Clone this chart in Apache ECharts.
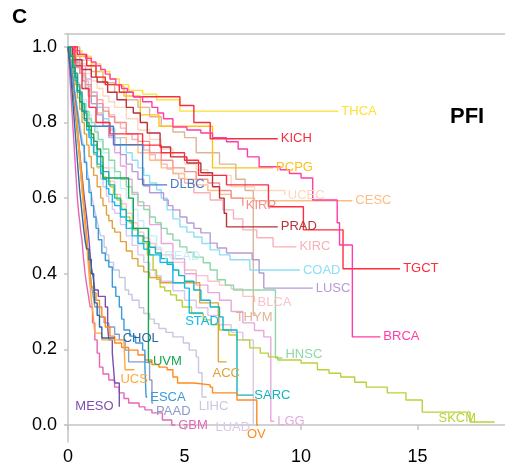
<!DOCTYPE html>
<html>
<head>
<meta charset="utf-8">
<script src="https://cdn.jsdelivr.net/npm/echarts@6/dist/echarts.min.js"></script>
<style>
  html, body { margin: 0; padding: 0; background: #fff; }
  #chart { width: 505px; height: 473px; }
</style>
</head>
<body>
<div id="chart"></div>
<script>
// survival curves, [years, probability] per cancer type
const THCA = [[0,1],[0.3,0.99],[0.6,0.975],[1,0.955],[1.4,0.935],[1.8,0.915],[2.2,0.9],[2.6,0.885],[3.2,0.875],[3.8,0.86],[4.8,0.83],[11.6,0.83]]
const KICH = [[0,1],[0.4,0.98],[0.8,0.95],[1.2,0.92],[1.6,0.9],[2.2,0.88],[2.8,0.868],[4.8,0.845],[5.4,0.8],[6.1,0.757],[9,0.757]]
const PCPG = [[0,1],[0.4,0.975],[0.8,0.95],[1.2,0.92],[1.6,0.9],[2.0,0.895],[2.4,0.87],[3.1,0.82],[3.9,0.79],[6.2,0.68],[8.8,0.68]]
const BRCA = [[0,1],[0.25,0.99],[0.5,0.98],[0.75,0.97],[1,0.96],[1.2,0.95],[1.4,0.94],[1.6,0.928],[1.8,0.915],[2.05,0.9],[2.3,0.89],[2.55,0.88],[2.8,0.868],[3.2,0.855],[3.6,0.84],[3.85,0.825],[4.1,0.81],[4.5,0.788],[5.1,0.78],[5.7,0.772],[6.2,0.76],[6.8,0.749],[7.3,0.73],[7.7,0.709],[8.2,0.683],[9.1,0.675],[9.5,0.665],[10,0.653],[10.5,0.595],[11.55,0.535],[11.65,0.476],[12.2,0.233],[13.4,0.233]]
const PRAD = [[0,1],[0.2,0.966],[0.6,0.94],[1.0,0.92],[1.25,0.907],[1.7,0.88],[2.1,0.86],[2.5,0.84],[2.8,0.825],[3.1,0.8],[3.4,0.772],[3.95,0.735],[4.4,0.709],[5.1,0.693],[5.7,0.667],[6.2,0.63],[6.5,0.6],[6.7,0.56],[6.8,0.524],[9.0,0.524]]
const KIRP = [[0,1],[0.25,0.96],[0.5,0.93],[0.75,0.9],[1,0.87],[1.25,0.85],[1.5,0.83],[1.75,0.815],[2,0.8],[2.5,0.77],[3,0.75],[3.5,0.72],[4,0.7],[4.5,0.68],[5,0.67],[5.5,0.65],[6,0.64],[6.5,0.62],[7,0.6],[7.5,0.58]]
const UCEC = [[0,1],[0.25,0.975],[0.5,0.955],[0.75,0.93],[1,0.91],[1.25,0.89],[1.5,0.87],[1.75,0.855],[2,0.84],[2.5,0.81],[3,0.78],[3.5,0.755],[4,0.73],[4.5,0.71],[5,0.69],[5.5,0.675],[6,0.66],[7,0.63],[8,0.62],[9.3,0.608]]
const CESC = [[0,1],[0.125,0.985],[0.25,0.965],[0.375,0.95],[0.5,0.93],[0.625,0.91],[0.75,0.89],[0.875,0.87],[1,0.85],[1.25,0.825],[1.5,0.8],[1.75,0.78],[2,0.76],[2.5,0.74],[3,0.72],[3.5,0.7],[4,0.68],[4.5,0.665],[5,0.65],[5.5,0.635],[6,0.62],[6.5,0.61],[7,0.6],[8,0.593],[12.2,0.593]]
const KIRC = [[0,1],[0.125,0.985],[0.25,0.97],[0.375,0.955],[0.5,0.94],[0.625,0.925],[0.75,0.91],[0.875,0.895],[1,0.88],[1.25,0.86],[1.5,0.84],[1.75,0.82],[2,0.8],[2.25,0.785],[2.5,0.77],[2.75,0.755],[3,0.74],[3.25,0.727],[3.5,0.715],[3.75,0.7],[4,0.69],[4.25,0.677],[4.5,0.665],[4.75,0.652],[5,0.64],[5.4,0.614],[6.1,0.595],[6.65,0.569],[7.1,0.545],[7.5,0.516],[8.1,0.495],[8.8,0.471],[9.8,0.471]]
const TGCT = [[0,1],[0.3,0.95],[0.6,0.89],[0.9,0.84],[1.2,0.8],[1.8,0.77],[3.2,0.74],[4,0.72],[5,0.7],[5.6,0.66],[6.8,0.635],[8.6,0.577],[10.1,0.516],[11.8,0.413],[14.25,0.413]]
const COAD = [[0,1],[0.125,0.985],[0.25,0.97],[0.375,0.955],[0.5,0.94],[0.625,0.92],[0.75,0.9],[0.875,0.885],[1,0.87],[1.25,0.84],[1.5,0.81],[1.75,0.785],[2,0.76],[2.25,0.74],[2.5,0.72],[2.75,0.7],[3,0.68],[3.25,0.66],[3.5,0.64],[3.8,0.622],[4.0,0.6],[4.25,0.569],[4.5,0.545],[4.8,0.524],[5.1,0.51],[5.4,0.497],[5.75,0.48],[6.1,0.463],[6.5,0.45],[6.95,0.437],[7.8,0.41],[9.95,0.41]]
const LUSC = [[0,1],[0.125,0.98],[0.25,0.96],[0.375,0.945],[0.5,0.93],[0.625,0.91],[0.75,0.89],[0.875,0.87],[1,0.85],[1.25,0.82],[1.5,0.79],[1.75,0.765],[2,0.74],[2.25,0.715],[2.5,0.69],[2.75,0.67],[3,0.65],[3.25,0.632],[3.5,0.614],[4.1,0.595],[4.3,0.58],[4.5,0.569],[4.8,0.55],[5.1,0.534],[5.4,0.52],[5.7,0.508],[6.1,0.481],[6.4,0.468],[6.8,0.455],[7.9,0.437],[8.2,0.402],[8.4,0.362],[10.5,0.362]]
const BLCA = [[0,1],[0.1,0.975],[0.2,0.95],[0.3,0.93],[0.4,0.905],[0.5,0.88],[0.6,0.855],[0.7,0.83],[0.8,0.81],[0.9,0.79],[1,0.77],[1.1,0.75],[1.25,0.725],[1.4,0.695],[1.5,0.68],[1.75,0.645],[2,0.61],[2.25,0.585],[2.5,0.56],[2.75,0.535],[3,0.51],[3.25,0.495],[3.5,0.48],[3.75,0.465],[4,0.45],[4.5,0.43],[5,0.41],[5.5,0.395],[6,0.38],[6.5,0.37],[7,0.36],[7.5,0.34],[8,0.325]]
const THYM = [[0,1],[0.5,0.965],[1,0.935],[1.5,0.905],[2,0.88],[2.5,0.86],[3,0.84],[3.5,0.815],[4,0.79],[4.5,0.775],[5,0.76],[5.5,0.72],[6.5,0.69],[7.2,0.65],[7.6,0.62],[7.95,0.29],[8.05,0.29]]
const HNSC = [[0,1],[0.1,0.975],[0.2,0.945],[0.3,0.92],[0.4,0.895],[0.5,0.87],[0.6,0.85],[0.75,0.83],[0.9,0.81],[1,0.8],[1.15,0.775],[1.3,0.755],[1.5,0.73],[1.75,0.7],[2,0.67],[2.25,0.65],[2.5,0.63],[2.75,0.61],[3,0.59],[3.25,0.57],[3.5,0.55],[3.75,0.535],[4,0.52],[4.25,0.505],[4.5,0.489],[4.8,0.471],[5.1,0.457],[5.4,0.444],[5.8,0.429],[6.1,0.41],[6.4,0.384],[6.75,0.37],[7.1,0.357],[8.9,0.177],[9.2,0.177]]
const STAD = [[0,1],[0.1,0.965],[0.2,0.935],[0.3,0.91],[0.4,0.88],[0.5,0.855],[0.6,0.83],[0.7,0.805],[0.8,0.78],[0.9,0.76],[1,0.74],[1.1,0.72],[1.25,0.69],[1.4,0.665],[1.5,0.65],[1.65,0.625],[1.75,0.61],[1.9,0.59],[2,0.58],[2.25,0.55],[2.5,0.52],[2.75,0.5],[3,0.48],[3.25,0.465],[3.5,0.45],[3.95,0.43],[4.5,0.376],[5.0,0.362],[5.2,0.296],[5.8,0.296]]
const SARC = [[0,1],[0.1,0.975],[0.2,0.95],[0.3,0.93],[0.4,0.9],[0.5,0.875],[0.6,0.85],[0.7,0.825],[0.8,0.8],[0.9,0.78],[1,0.76],[1.1,0.74],[1.25,0.71],[1.4,0.685],[1.5,0.67],[1.75,0.635],[2,0.6],[2.25,0.57],[2.5,0.54],[2.75,0.52],[3,0.5],[3.25,0.485],[3.5,0.47],[3.75,0.455],[4,0.44],[4.25,0.425],[4.5,0.41],[4.75,0.395],[5,0.38],[5.4,0.357],[5.7,0.33],[6.1,0.312],[6.5,0.286],[6.65,0.251],[7.25,0.079],[7.95,0.079]]
const SKCM = [[0,1],[0.1,0.975],[0.2,0.95],[0.3,0.93],[0.4,0.9],[0.5,0.875],[0.6,0.85],[0.7,0.825],[0.8,0.8],[0.9,0.77],[1,0.74],[1.1,0.715],[1.25,0.683],[1.4,0.665],[1.5,0.656],[1.65,0.645],[1.8,0.63],[1.95,0.61],[2.1,0.595],[2.3,0.57],[2.5,0.55],[2.65,0.535],[2.8,0.516],[3.0,0.5],[3.2,0.481],[3.4,0.45],[3.65,0.41],[3.8,0.385],[3.95,0.365],[4.15,0.355],[4.4,0.344],[4.65,0.33],[4.9,0.312],[5.3,0.295],[5.8,0.278],[6.15,0.265],[6.5,0.251],[6.9,0.238],[7.25,0.225],[7.8,0.204],[8.25,0.19],[8.6,0.18],[9,0.172],[10,0.164],[10.7,0.146],[11.2,0.137],[11.7,0.127],[12.3,0.113],[12.8,0.1],[13.7,0.085],[14.5,0.066],[15.2,0.034],[17.25,0.008],[18.3,0.008]]
const UVM = [[0,1],[0.1,0.975],[0.2,0.945],[0.3,0.92],[0.4,0.885],[0.5,0.855],[0.6,0.83],[0.7,0.81],[0.8,0.79],[1,0.77],[1.1,0.75],[1.25,0.73],[1.4,0.71],[1.5,0.653],[2.6,0.6],[2.8,0.52],[3.45,0.167],[3.6,0.167]]
const ACC = [[0,1],[0.1,0.965],[0.2,0.935],[0.3,0.9],[0.4,0.865],[0.5,0.835],[0.6,0.8],[0.7,0.77],[0.8,0.74],[0.9,0.71],[1,0.68],[1.1,0.66],[1.25,0.63],[1.4,0.6],[1.5,0.58],[1.65,0.555],[1.75,0.54],[1.9,0.52],[2,0.51],[2.25,0.485],[2.5,0.46],[2.75,0.44],[3,0.42],[3.25,0.405],[3.5,0.39],[3.95,0.376],[5.65,0.323],[6.45,0.167],[6.8,0.167]]
const LIHC = [[0,1],[0.05,0.98],[0.1,0.96],[0.15,0.94],[0.2,0.92],[0.27,0.89],[0.35,0.86],[0.42,0.83],[0.5,0.8],[0.57,0.77],[0.65,0.74],[0.72,0.71],[0.8,0.68],[0.87,0.655],[0.95,0.63],[1.02,0.605],[1.1,0.58],[1.17,0.56],[1.25,0.54],[1.32,0.52],[1.4,0.5],[1.55,0.47],[1.65,0.45],[1.75,0.43],[1.95,0.41],[2.2,0.39],[2.45,0.357],[2.6,0.345],[2.75,0.33],[3.05,0.31],[3.25,0.295],[3.5,0.28],[3.7,0.268],[3.9,0.255],[4.2,0.245],[4.5,0.233],[4.95,0.217],[5.2,0.198],[5.5,0.18],[5.6,0.138],[5.75,0.074],[5.95,0.074]]
const LUAD = [[0,1],[0.1,0.975],[0.2,0.95],[0.3,0.93],[0.4,0.9],[0.5,0.875],[0.6,0.85],[0.7,0.82],[0.8,0.79],[0.9,0.765],[1,0.74],[1.1,0.715],[1.25,0.68],[1.4,0.65],[1.5,0.63],[1.65,0.605],[1.75,0.59],[1.9,0.57],[2,0.56],[2.25,0.53],[2.5,0.5],[2.75,0.475],[3,0.45],[3.25,0.43],[3.5,0.41],[3.75,0.395],[4,0.38],[4.5,0.355],[5,0.33],[5.5,0.31],[6,0.29],[6.5,0.265],[7,0.245],[7.5,0.225],[7.95,0.0],[8.0,0.0]]
const LGG = [[0,1],[0.25,0.975],[0.5,0.95],[0.75,0.915],[1,0.88],[1.25,0.84],[1.5,0.8],[1.75,0.76],[2,0.72],[2.25,0.685],[2.5,0.65],[2.75,0.615],[3,0.58],[3.5,0.53],[4,0.48],[4.5,0.44],[5,0.4],[5.5,0.37],[6,0.35],[6.5,0.33],[7,0.3],[7.5,0.27],[8,0.25],[8.4,0.233],[8.7,0.01],[8.85,0.01]]
const OV = [[0,1],[0.05,0.985],[0.1,0.97],[0.15,0.95],[0.2,0.93],[0.25,0.9],[0.3,0.87],[0.35,0.835],[0.4,0.8],[0.45,0.76],[0.5,0.72],[0.55,0.685],[0.6,0.65],[0.65,0.61],[0.7,0.57],[0.75,0.535],[0.8,0.5],[0.85,0.465],[0.9,0.43],[0.95,0.4],[1,0.365],[1.1,0.35],[1.2,0.33],[1.35,0.312],[1.45,0.285],[1.6,0.259],[1.8,0.235],[2,0.217],[2.3,0.205],[2.6,0.198],[3.0,0.185],[3.3,0.172],[3.6,0.16],[3.9,0.153],[4.25,0.146],[4.5,0.127],[4.7,0.111],[5.4,0.106],[6.1,0.1],[6.2,0.085],[7.25,0.066],[8.1,0.0],[8.15,0.0]]
const UCS = [[0,1],[0.05,0.98],[0.1,0.96],[0.15,0.94],[0.2,0.92],[0.25,0.885],[0.3,0.85],[0.35,0.815],[0.4,0.78],[0.45,0.74],[0.5,0.7],[0.55,0.66],[0.6,0.62],[0.65,0.585],[0.7,0.55],[0.75,0.515],[0.8,0.48],[0.85,0.44],[0.9,0.4],[0.95,0.365],[1,0.33],[1.08,0.29],[1.15,0.243],[1.45,0.225],[2.4,0.217],[2.45,0.146],[2.85,0.146]]
const CHOL = [[0,1],[0.05,0.97],[0.1,0.94],[0.15,0.9],[0.2,0.86],[0.25,0.82],[0.3,0.78],[0.35,0.74],[0.4,0.7],[0.45,0.66],[0.5,0.62],[0.55,0.59],[0.6,0.56],[0.65,0.53],[0.73,0.489],[0.8,0.465],[0.9,0.437],[1.0,0.4],[1.1,0.376],[1.15,0.323],[1.25,0.29],[1.35,0.259],[1.45,0.23],[2.0,0.23]]
const ESCA = [[0,1],[0.05,0.98],[0.1,0.96],[0.15,0.94],[0.2,0.92],[0.25,0.895],[0.3,0.87],[0.35,0.85],[0.4,0.83],[0.45,0.805],[0.5,0.78],[0.55,0.76],[0.6,0.74],[0.7,0.695],[0.8,0.65],[0.9,0.615],[1,0.58],[1.1,0.55],[1.2,0.52],[1.3,0.49],[1.45,0.455],[1.6,0.435],[1.75,0.418],[1.9,0.365],[2.05,0.34],[2.2,0.312],[2.3,0.28],[2.4,0.251],[2.65,0.235],[2.9,0.217],[3.2,0.198],[3.3,0.153],[3.35,0.074],[3.4,0.074]]
const PAAD = [[0,1],[0.05,0.975],[0.1,0.95],[0.15,0.925],[0.2,0.9],[0.25,0.865],[0.3,0.83],[0.35,0.8],[0.4,0.77],[0.45,0.735],[0.5,0.7],[0.55,0.665],[0.6,0.63],[0.65,0.595],[0.7,0.56],[0.75,0.525],[0.8,0.49],[0.85,0.46],[0.9,0.43],[0.95,0.4],[1,0.37],[1.08,0.34],[1.15,0.312],[1.35,0.286],[1.55,0.27],[1.75,0.259],[2.0,0.24],[2.2,0.225],[2.45,0.198],[2.6,0.167],[3.3,0.164],[3.5,0.119],[3.6,0.058],[3.65,0.058]]
const MESO = [[0,1],[0.05,0.97],[0.1,0.95],[0.15,0.92],[0.2,0.9],[0.25,0.87],[0.3,0.84],[0.35,0.81],[0.4,0.78],[0.45,0.75],[0.5,0.72],[0.55,0.69],[0.6,0.66],[0.65,0.63],[0.7,0.6],[0.75,0.575],[0.8,0.55],[0.85,0.52],[0.9,0.489],[0.95,0.45],[1,0.418],[1.08,0.39],[1.15,0.357],[1.3,0.34],[1.6,0.312],[1.7,0.26],[1.75,0.225],[1.9,0.19],[1.95,0.153],[2.0,0.111],[2.2,0.048]]
const GBM = [[0,1],[0.03,0.97],[0.06,0.94],[0.1,0.9],[0.13,0.87],[0.17,0.83],[0.2,0.8],[0.25,0.75],[0.3,0.7],[0.35,0.65],[0.4,0.6],[0.45,0.565],[0.5,0.54],[0.55,0.51],[0.6,0.489],[0.65,0.45],[0.73,0.402],[0.8,0.37],[0.88,0.34],[0.95,0.312],[1.05,0.27],[1.15,0.225],[1.25,0.19],[1.35,0.153],[1.5,0.135],[1.75,0.119],[2.0,0.1],[2.2,0.085],[2.4,0.07],[2.6,0.058],[3.05,0.048],[3.3,0.04],[3.6,0.032],[4.05,0.013],[4.45,0.0],[4.6,0.0]]
const DLBC = [[0,1],[0.1,0.96],[0.2,0.93],[0.4,0.88],[0.6,0.83],[0.8,0.79],[1.95,0.741],[3.2,0.635],[4.25,0.635]]
const READ = [[0,1],[0.15,0.97],[0.3,0.93],[0.45,0.9],[0.6,0.86],[0.8,0.82],[1,0.79],[1.25,0.75],[1.5,0.72],[1.75,0.68],[2,0.65],[2.25,0.625],[2.5,0.6],[2.75,0.57],[3,0.54],[3.25,0.52],[3.5,0.5],[3.8,0.47],[4.0,0.447]]

const xTicks = [0, 5, 10, 15]
const yTicks = [0, 0.2, 0.4, 0.6, 0.8, 1.0]

// name, data, colour, label offset
const curves = [
  ['READ', READ, '#c6ecfa', [0, 0]],
  ['UCEC', UCEC, '#fcd8c0', [0, 0]],
  ['BLCA', BLCA, '#f8c4ca', [0, 0]],
  ['LUAD', LUAD, '#dcc6ea', [-42, 2]],
  ['LIHC', LIHC, '#c9c6e0', [-11, 9]],
  ['KIRC', KIRC, '#f7b1b7', [0, 0]],
  ['CESC', CESC, '#fdbd85', [0, 0]],
  ['THYM', THYM, '#ddb596', [-23, 2]],
  ['LGG', LGG, '#e8a8db', [0, 0]],
  ['COAD', COAD, '#8cdef6', [0, 0]],
  ['HNSC', HNSC, '#8dd7a8', [0, -4]],
  ['LUSC', LUSC, '#b69bd8', [0, 0]],
  ['KIRP', KIRP, '#f4928e', [0, 0]],
  ['THCA', THCA, '#ffe033', [0, 0]],
  ['PCPG', PCPG, '#ffc21a', [0, 0]],
  ['PRAD', PRAD, '#b8333a', [0, 0]],
  ['KICH', KICH, '#f2303f', [0, 0]],
  ['TGCT', TGCT, '#ff2d3c', [0, 0]],
  ['BRCA', BRCA, '#ff3da5', [0, 0]],
  ['DLBC', DLBC, '#4a7cc3', [0, 0]],
  ['SKCM', SKCM, '#bcd03a', [-59, -4]],
  ['ACC', ACC, '#dfa33b', [-17, 12]],
  ['SARC', SARC, '#14b4b8', [-2, 0]],
  ['STAD', STAD, '#12b8ea', [-21, 8]],
  ['PAAD', PAAD, '#8b9cc6', [0, 8]],
  ['GBM', GBM, '#e566b3', [0, 0]],
  ['MESO', MESO, '#7b4fb0', [-47, 0]],
  ['OV', OV, '#ff8a1c', [-14, 9]],
  ['UCS', UCS, '#ffa83a', [-17, 10]],
  ['ESCA', ESCA, '#3a9bdb', [0, 0]],
  ['CHOL', CHOL, '#2b679e', [5, 0]],
  ['UVM', UVM, '#17a550', [-2, 0]]
]

const axisGray = '#c4c4c4'
const labelFont = 'Liberation Sans'

const series = curves.map(([name, data, color, offset]) => ({
  name: name,
  type: 'line',
  step: 'end',
  data: data,
  symbol: 'none',
  silent: true,
  lineStyle: { color: color, width: 1.4 },
  markPoint: {
    symbol: 'circle',
    symbolSize: 0,
    silent: true,
    z: 20,
    data: [{ coord: data[data.length - 1] }],
    label: {
      show: true,
      position: 'right',
      distance: 3,
      offset: offset,
      formatter: name,
      color: color,
      fontSize: 13,
      fontFamily: labelFont
    }
  }
}))

const chart = echarts.init(document.getElementById('chart'))
chart.setOption({
  animation: false,
  backgroundColor: '#fff',
  title: [
    { text: 'C', left: 7, top: 2, textStyle: { fontSize: 21, fontWeight: 'bold', color: '#000', fontFamily: labelFont } },
    { text: 'PFI', left: 445, top: 101, textStyle: { fontSize: 22, fontWeight: 'bold', color: '#000', fontFamily: labelFont } }
  ],
  grid: { left: 65, right: 0, top: 34, bottom: 31 },
  xAxis: [
    {
      type: 'value',
      min: -0.13,
      max: 18.75,
      axisLine: { lineStyle: { color: axisGray, width: 1.5 } },
      axisTick: { show: true, length: 5, customValues: xTicks, lineStyle: { color: axisGray, width: 1.5 } },
      axisLabel: { customValues: xTicks, color: '#000', fontSize: 18, fontFamily: labelFont, margin: 6 },
      splitLine: { show: false }
    },
    {
      type: 'value',
      position: 'top',
      min: -0.13,
      max: 18.75,
      axisLine: { show: true, lineStyle: { color: axisGray, width: 1.5 } },
      axisTick: { show: false },
      axisLabel: { show: false },
      splitLine: { show: false }
    }
  ],
  yAxis: {
    type: 'value',
    min: -0.045,
    max: 1.034,
    axisLine: { show: true, lineStyle: { color: axisGray, width: 1.5 } },
    axisTick: { show: true, length: 4, customValues: yTicks, lineStyle: { color: axisGray, width: 1.5 } },
    axisLabel: {
      customValues: yTicks,
      formatter: v => v.toFixed(1),
      color: '#000',
      fontSize: 18,
      fontFamily: labelFont,
      margin: 8
    },
    splitLine: { show: false }
  },
  series: series
})
</script>
</body>
</html>
